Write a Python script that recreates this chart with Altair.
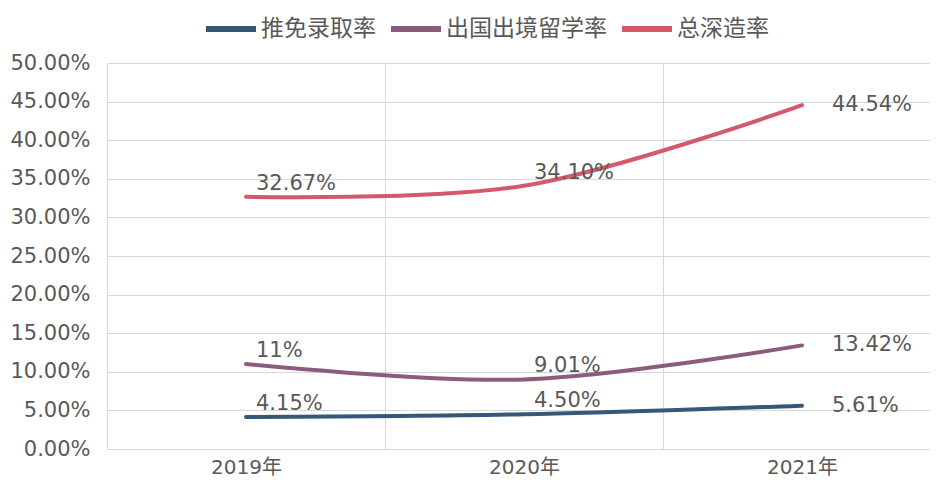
import altair as alt
import pandas as pd

years = ["2019年", "2020年", "2021年"]
series_names = ["推免录取率", "出国出境留学率", "总深造率"]
tuimian = [4.15, 4.50, 5.61]
chuguo = [11.00, 9.01, 13.42]
zongshenzao = [32.67, 34.10, 44.54]
tuimian_labels = ["4.15%", "4.50%", "5.61%"]
chuguo_labels = ["11%", "9.01%", "13.42%"]
zongshenzao_labels = ["32.67%", "34.10%", "44.54%"]
colors = ["#35587a", "#8e5b7c", "#d4596b"]

rows = []
for name, vals, labs in zip(series_names,
                            [tuimian, chuguo, zongshenzao],
                            [tuimian_labels, chuguo_labels, zongshenzao_labels]):
    for i, (y, v, l) in enumerate(zip(years, vals, labs)):
        rows.append({"year": y, "series": name, "value": v / 100, "label": l,
                     "last": i == len(years) - 1})
df = pd.DataFrame(rows)

FONT_NUM = "DejaVu Sans, Noto Sans CJK SC"
FONT_CJK = "Noto Sans CJK SC"
TXT = "#595959"

x = alt.X("year:N", sort=years, title=None,
          scale=alt.Scale(range=[0, 834], paddingInner=0, paddingOuter=0),
          axis=alt.Axis(tickBand="extent", grid=True, gridColor="#d9d9d9",
                        domain=False, ticks=False, labelAngle=0,
                        labelFont=FONT_NUM, labelFontSize=20, labelColor=TXT,
                        labelPadding=8))
y = alt.Y("value:Q", title=None,
          scale=alt.Scale(domain=[0, 0.5], nice=False),
          axis=alt.Axis(format=".2%", values=[i * 0.05 for i in range(11)],
                        grid=True, gridColor="#d9d9d9", domain=False, ticks=False,
                        labelFont=FONT_NUM, labelFontSize=21, labelColor=TXT,
                        labelPadding=17))
color = alt.Color("series:N",
                  scale=alt.Scale(domain=series_names, range=colors),
                  legend=alt.Legend(title=None, orient="none", direction="horizontal",
                                    legendX=96, legendY=-62,
                                    symbolType="stroke", symbolSize=2500,
                                    symbolStrokeWidth=6, labelFont=FONT_CJK,
                                    labelFontSize=23, labelColor=TXT, labelLimit=0,
                                    columnPadding=3, labelOffset=2))

base = alt.Chart(df)
lines = base.mark_line(interpolate="catmull-rom", strokeWidth=4, strokeCap="round").encode(
    x=x, y=y, color=color)
text_mid = base.transform_filter("!datum.last").mark_text(
    align="left", baseline="middle", dx=10, dy=-13, font=FONT_NUM, fontSize=21, color=TXT
).encode(x=x, y=y, text="label:N")
text_last = base.transform_filter("datum.last").mark_text(
    align="left", baseline="middle", dx=30, dy=0, font=FONT_NUM, fontSize=21, color=TXT
).encode(x=x, y=y, text="label:N")

chart = alt.layer(lines, text_mid, text_last).properties(
    width=823, height=386,
    autosize=alt.AutoSizeParams(type="none"),
    padding={"left": 99, "top": 55, "right": 0, "bottom": 31},
).configure_view(stroke=None)

chart.save("out.html", embed_options={"renderer": "svg", "actions": False})
